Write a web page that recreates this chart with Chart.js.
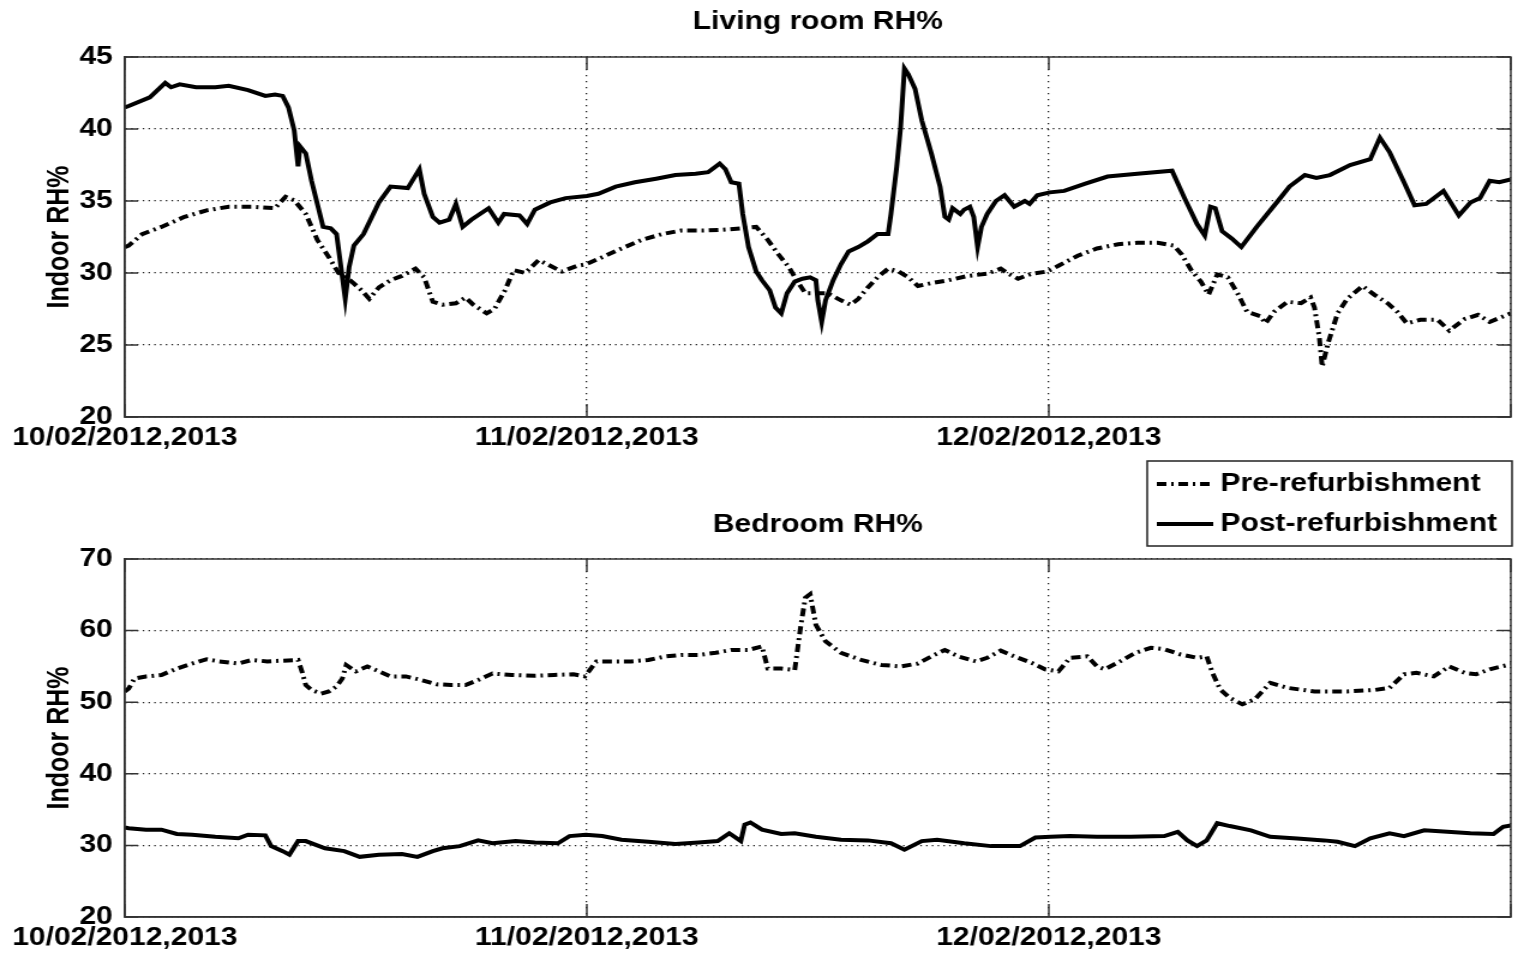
<!DOCTYPE html>
<html>
<head>
<meta charset="utf-8">
<title>Indoor RH%</title>
<script src="https://cdn.jsdelivr.net/npm/chart.js@4"></script>
<style>
  html, body { margin: 0; padding: 0; background: #fff; }
  body { width: 1518px; height: 958px; position: relative; overflow: hidden; }
  canvas { position: absolute; left: 0; }
</style>
</head>
<body>
<!-- drawn narrow and stretched sideways, like the original figure -->
<canvas id="livingChart" width="1265" height="455" style="top:0;width:1518px;height:455px"></canvas>
<canvas id="bedroomChart" width="1265" height="503" style="top:455px;width:1518px;height:503px"></canvas>
<script>
// x = hours since 10/02 00:00, y = RH %
const dayLabels = ['10/02/2012,2013', '11/02/2012,2013', '12/02/2012,2013', ''];

const livingPre = [
  [0,31.8],[0.2,31.9],[0.9,32.7],[1.9,33.2],[3.1,33.9],[4.25,34.35],[5.4,34.6],[6.6,34.6],[7.8,34.5],[8.35,35.3],
  [8.8,35.05],[9.4,34.1],[10.0,32.3],[10.6,31.1],[11.1,30.0],[11.7,29.5],[12.3,28.8],[12.7,28.2],[13.2,29.0],[13.8,29.5],
  [14.4,29.8],[15.1,30.3],[15.55,29.7],[16.0,28.0],[16.5,27.8],[17.2,27.9],[17.7,28.3],[18.1,27.8],[18.8,27.2],[19.2,27.5],
  [19.75,28.8],[20.2,30.2],[20.8,30.0],[21.5,30.9],[22.1,30.5],[22.7,30.1],[23.5,30.5],[23.95,30.6],[24.8,31.1],[25.8,31.7],
  [26.85,32.3],[27.9,32.7],[28.9,32.95],[30.0,32.95],[31.0,33.0],[32.0,33.1],[32.8,33.2],[33.4,32.3],[33.95,31.3],[34.5,30.4],
  [34.9,29.5],[35.35,28.6],[35.9,28.6],[36.5,28.6],[37.2,28.1],[37.7,27.8],[38.1,28.2],[38.6,29.0],[39.1,29.7],[39.65,30.3],
  [40.2,30.1],[40.7,29.7],[41.2,29.1],[41.9,29.3],[42.8,29.5],[43.8,29.8],[44.8,29.95],[45.5,30.3],[45.9,29.95],[46.4,29.6],
  [47.1,29.95],[47.9,30.1],[48.5,30.5],[49.5,31.2],[50.5,31.7],[51.6,32.0],[52.6,32.1],[53.65,32.1],[54.5,31.9],[54.9,31.3],
  [55.4,30.2],[55.9,29.4],[56.3,28.5],[56.75,29.9],[57.3,29.7],[57.8,28.6],[58.3,27.3],[59.0,27.0],[59.25,26.5],[59.7,27.3],
  [60.4,28.0],[61.1,27.9],[61.6,28.3],[61.8,27.6],[62.05,25.55],[62.2,23.5],[62.5,25.1],[63.0,27.2],[63.5,28.2],[64.3,29.1],
  [64.9,28.5],[65.6,27.9],[66.1,27.3],[66.6,26.5],[67.3,26.75],[68.2,26.75],[68.8,26.0],[69.6,26.8],[70.3,27.1],[70.9,26.6],
  [72.0,27.2]
];

const livingPost = [
  [0,41.5],[0.2,41.6],[1.3,42.2],[2.1,43.2],[2.4,42.9],[2.85,43.1],[3.7,42.9],[4.7,42.9],[5.4,43.0],[6.4,42.7],
  [7.3,42.3],[7.8,42.4],[8.2,42.3],[8.5,41.5],[8.8,39.9],[9.0,37.4],[9.1,38.8],[9.4,38.3],[9.7,36.4],[10.0,34.8],
  [10.3,33.2],[10.7,33.1],[11.0,32.7],[11.25,30.2],[11.45,28.2],[11.65,30.4],[11.9,31.9],[12.4,32.7],[13.2,34.9],[13.8,36.0],
  [14.7,35.9],[15.3,37.2],[15.55,35.5],[16.0,33.9],[16.35,33.5],[16.85,33.7],[17.2,34.8],[17.55,33.2],[18.0,33.7],[18.9,34.5],
  [19.4,33.5],[19.7,34.1],[20.5,34.0],[20.9,33.4],[21.3,34.4],[22.1,34.9],[22.9,35.2],[24.0,35.35],[24.6,35.5],[25.5,36.0],
  [26.5,36.3],[27.6,36.55],[28.6,36.8],[29.65,36.9],[30.3,37.0],[30.7,37.4],[30.9,37.6],[31.2,37.2],[31.5,36.3],[31.9,36.2],
  [32.1,34.1],[32.4,31.8],[32.8,30.1],[33.1,29.5],[33.5,28.8],[33.8,27.6],[34.1,27.2],[34.4,28.6],[34.8,29.4],[35.2,29.6],
  [35.6,29.7],[35.9,29.5],[36.0,28.1],[36.2,26.6],[36.4,28.1],[36.8,29.5],[37.2,30.6],[37.6,31.5],[38.1,31.8],[38.6,32.2],
  [39.1,32.7],[39.65,32.7],[39.8,34.1],[40.1,37.4],[40.3,40.1],[40.5,44.2],[40.7,43.8],[41.05,42.8],[41.4,40.6],[41.9,38.3],
  [42.35,36.0],[42.6,33.9],[42.8,33.7],[43.0,34.5],[43.4,34.1],[43.6,34.4],[43.9,34.6],[44.1,33.9],[44.3,31.8],[44.5,33.2],
  [44.8,34.1],[45.25,35.0],[45.7,35.4],[46.2,34.6],[46.75,35.0],[47.0,34.8],[47.4,35.4],[48.05,35.6],[48.8,35.7],[49.9,36.2],
  [51.05,36.7],[52.6,36.9],[54.4,37.1],[55.05,35.2],[55.7,33.4],[56.1,32.6],[56.4,34.6],[56.65,34.5],[57.0,32.9],[57.5,32.4],
  [58.0,31.8],[58.8,33.2],[59.9,35.0],[60.5,36.0],[61.3,36.8],[61.9,36.6],[62.6,36.8],[63.65,37.5],[64.7,37.9],[65.2,39.4],
  [65.7,38.4],[66.45,36.3],[67.0,34.7],[67.6,34.8],[68.5,35.7],[69.3,34.0],[69.9,34.9],[70.4,35.2],[70.9,36.4],[71.4,36.3],
  [72.0,36.5]
];

const bedroomPre = [
  [0,51.5],[0.2,51.9],[0.5,53.3],[1.1,53.6],[1.9,53.8],[2.7,54.7],[3.5,55.4],[4.25,56.0],[4.9,55.7],[5.9,55.4],
  [6.6,55.9],[7.4,55.7],[8.2,55.8],[9.0,55.9],[9.2,54.3],[9.4,52.4],[9.7,51.7],[10.2,51.2],[10.6,51.5],[11.0,52.2],
  [11.3,53.3],[11.5,55.2],[12.0,54.3],[12.6,55.0],[13.2,54.3],[13.8,53.6],[14.6,53.6],[15.4,53.1],[16.2,52.5],[16.95,52.4],
  [17.7,52.4],[18.35,53.1],[19.1,54.0],[20.1,53.8],[21.3,53.7],[22.3,53.8],[23.3,53.9],[23.9,53.6],[24.5,55.7],[25.5,55.7],
  [26.3,55.7],[27.2,55.9],[28.1,56.4],[28.9,56.6],[29.8,56.6],[30.7,56.9],[31.5,57.3],[32.4,57.3],[33.1,57.8],[33.4,54.7],
  [34.1,54.7],[34.8,54.5],[35.1,60.4],[35.35,64.6],[35.6,65.1],[35.9,60.8],[36.4,58.5],[37.2,56.9],[38.25,55.9],[39.3,55.2],
  [40.3,55.0],[41.2,55.4],[41.9,56.4],[42.6,57.3],[43.3,56.4],[44.2,55.7],[44.8,56.2],[45.5,57.2],[46.2,56.4],[47.1,55.5],
  [47.8,54.6],[48.5,54.3],[49.1,56.2],[50.0,56.4],[50.5,55.0],[50.9,54.6],[51.7,55.7],[52.5,56.9],[53.3,57.6],[54.0,57.4],
  [54.8,56.7],[55.7,56.2],[56.2,56.4],[56.5,54.1],[56.9,51.8],[57.4,50.6],[58.05,49.7],[58.7,50.4],[59.5,52.7],[60.4,52.0],
  [61.8,51.5],[63.5,51.5],[64.9,51.7],[65.7,52.0],[66.45,53.9],[67.1,54.1],[68.0,53.6],[68.8,55.0],[69.6,54.1],[70.2,53.9],
  [70.9,54.6],[72.0,55.3]
];

const bedroomPost = [
  [0,32.5],[0.2,32.4],[1.1,32.2],[1.9,32.2],[2.7,31.6],[3.5,31.5],[4.7,31.2],[5.9,31.0],[6.4,31.5],[7.3,31.4],
  [7.6,29.9],[8.2,29.2],[8.55,28.7],[9.0,30.6],[9.4,30.6],[10.4,29.6],[11.4,29.2],[12.2,28.4],[13.2,28.7],[14.4,28.8],
  [15.2,28.4],[16.0,29.2],[16.5,29.6],[17.4,29.9],[18.35,30.7],[19.1,30.3],[20.3,30.6],[21.3,30.4],[22.5,30.3],[23.1,31.3],
  [23.95,31.5],[24.8,31.3],[25.8,30.8],[27.2,30.5],[28.6,30.2],[29.8,30.4],[30.8,30.6],[31.4,31.7],[32.0,30.6],[32.2,32.9],
  [32.5,33.2],[33.1,32.2],[34.1,31.6],[34.8,31.7],[35.9,31.2],[37.2,30.8],[38.6,30.7],[39.8,30.3],[40.5,29.4],[41.4,30.6],
  [42.2,30.8],[43.6,30.3],[45.0,29.9],[46.5,29.9],[47.3,31.1],[48.1,31.2],[49.1,31.3],[50.5,31.2],[52.25,31.2],[54.0,31.3],
  [54.7,31.9],[55.2,30.7],[55.7,29.9],[56.2,30.7],[56.75,33.1],[57.4,32.7],[58.5,32.1],[59.5,31.2],[60.9,30.95],[62.3,30.7],
  [63.0,30.5],[63.9,29.9],[64.7,31.0],[65.7,31.7],[66.45,31.3],[67.5,32.1],[68.7,31.9],[69.9,31.7],[71.1,31.6],[71.6,32.6],
  [72.0,32.8]
];

Chart.defaults.font.family = '"Liberation Sans", Arial, sans-serif';
Chart.defaults.font.size = 25;
Chart.defaults.font.weight = 'bold';
Chart.defaults.color = '#000';

const toPoints = arr => arr.map(p => ({x: p[0], y: p[1]}));

// axis box with inward tick marks, matlab style
const framePlugin = {
  id: 'frame',
  afterDatasetsDraw(chart) {
    const {ctx, chartArea: a, scales} = chart;
    ctx.save();
    ctx.strokeStyle = '#333';
    ctx.lineWidth = 1.5;
    ctx.strokeRect(a.left, a.top, a.right - a.left, a.bottom - a.top);
    ctx.beginPath();
    scales.x.ticks.forEach(t => {
      const px = scales.x.getPixelForValue(t.value);
      ctx.moveTo(px, a.bottom); ctx.lineTo(px, a.bottom - 13);
      ctx.moveTo(px, a.top); ctx.lineTo(px, a.top + 13);
    });
    scales.y.ticks.forEach(t => {
      const py = scales.y.getPixelForValue(t.value);
      ctx.moveTo(a.left, py); ctx.lineTo(a.left + 11, py);
      ctx.moveTo(a.right, py); ctx.lineTo(a.right - 11, py);
    });
    ctx.stroke();
    ctx.restore();
  }
};

const legendPlugin = {
  id: 'boxLegend',
  afterDraw(chart) {
    const ctx = chart.ctx;
    ctx.save();
    ctx.strokeStyle = '#222';
    ctx.lineWidth = 1.5;
    ctx.strokeRect(956, 6, 304, 85);
    ctx.font = 'bold 25px "Liberation Sans", Arial, sans-serif';
    ctx.textBaseline = 'middle';
    chart.data.datasets.forEach((ds, i) => {
      const y = 29 + i * 40;
      ctx.beginPath();
      ctx.setLineDash(ds.borderDash || []);
      ctx.lineWidth = ds.borderWidth;
      ctx.strokeStyle = ds.borderColor;
      ctx.moveTo(964, y);
      ctx.lineTo(1011, y);
      ctx.stroke();
      ctx.setLineDash([]);
      ctx.fillStyle = '#000';
      ctx.fillText(ds.label, 1017, y);
    });
    ctx.restore();
  }
};

function makeConfig(title, pre, post, yMin, yMax, yStep, pad, extraPlugins) {
  return {
    type: 'line',
    data: {
      datasets: [{
        label: 'Pre-refurbishment',
        data: toPoints(pre),
        borderColor: '#000',
        borderWidth: 4,
        borderDash: [8, 4, 2, 4],
        pointRadius: 0,
        tension: 0
      }, {
        label: 'Post-refurbishment',
        data: toPoints(post),
        borderColor: '#000',
        borderWidth: 4,
        pointRadius: 0,
        tension: 0
      }]
    },
    options: {
      responsive: false,
      devicePixelRatio: 1,
      animation: false,
      events: [],
      layout: { padding: { left: 0, right: 3, top: 0, bottom: 0 } },
      plugins: {
        legend: { display: false },
        tooltip: { enabled: false },
        title: {
          display: true,
          text: title,
          fullSize: false,
          font: { size: 25, weight: 'bold' },
          color: '#000',
          padding: { top: pad.titleTop, bottom: pad.titleBottom }
        }
      },
      scales: {
        x: {
          type: 'linear',
          min: 0,
          max: 72,
          afterFit: s => { s.height = pad.xHeight; },
          ticks: {
            stepSize: 24,
            autoSkip: false,
            maxRotation: 0,
            padding: 6,
            callback: v => dayLabels[Math.round(v / 24)]
          },
          grid: { color: '#222', lineWidth: 1.3, drawTicks: false },
          border: { display: true, color: '#333', width: 1.5, dash: [1.3, 4.7] }
        },
        y: {
          min: yMin,
          max: yMax,
          afterFit: s => { s.width = 104; },
          ticks: { stepSize: yStep, padding: 10 },
          grid: { color: '#222', lineWidth: 1.3, drawTicks: false },
          border: { display: true, color: '#333', width: 1.5, dash: [1.3, 3.5] },
          title: {
            display: true,
            text: 'Indoor RH%',
            font: { size: 25, weight: 'bold' },
            color: '#000',
            padding: { top: 35, bottom: 0 }
          }
        }
      }
    },
    plugins: [framePlugin].concat(extraPlugins)
  };
}

const livingChart = new Chart(
  document.getElementById('livingChart'),
  makeConfig('Living room RH%', livingPre, livingPost, 20, 45, 5,
    { titleTop: 7, titleBottom: 20, xHeight: 38 }, [])
);

const bedroomChart = new Chart(
  document.getElementById('bedroomChart'),
  makeConfig('Bedroom RH%', bedroomPre, bedroomPost, 20, 70, 10,
    { titleTop: 55, titleBottom: 19, xHeight: 41 }, [legendPlugin])
);
</script>
</body>
</html>
